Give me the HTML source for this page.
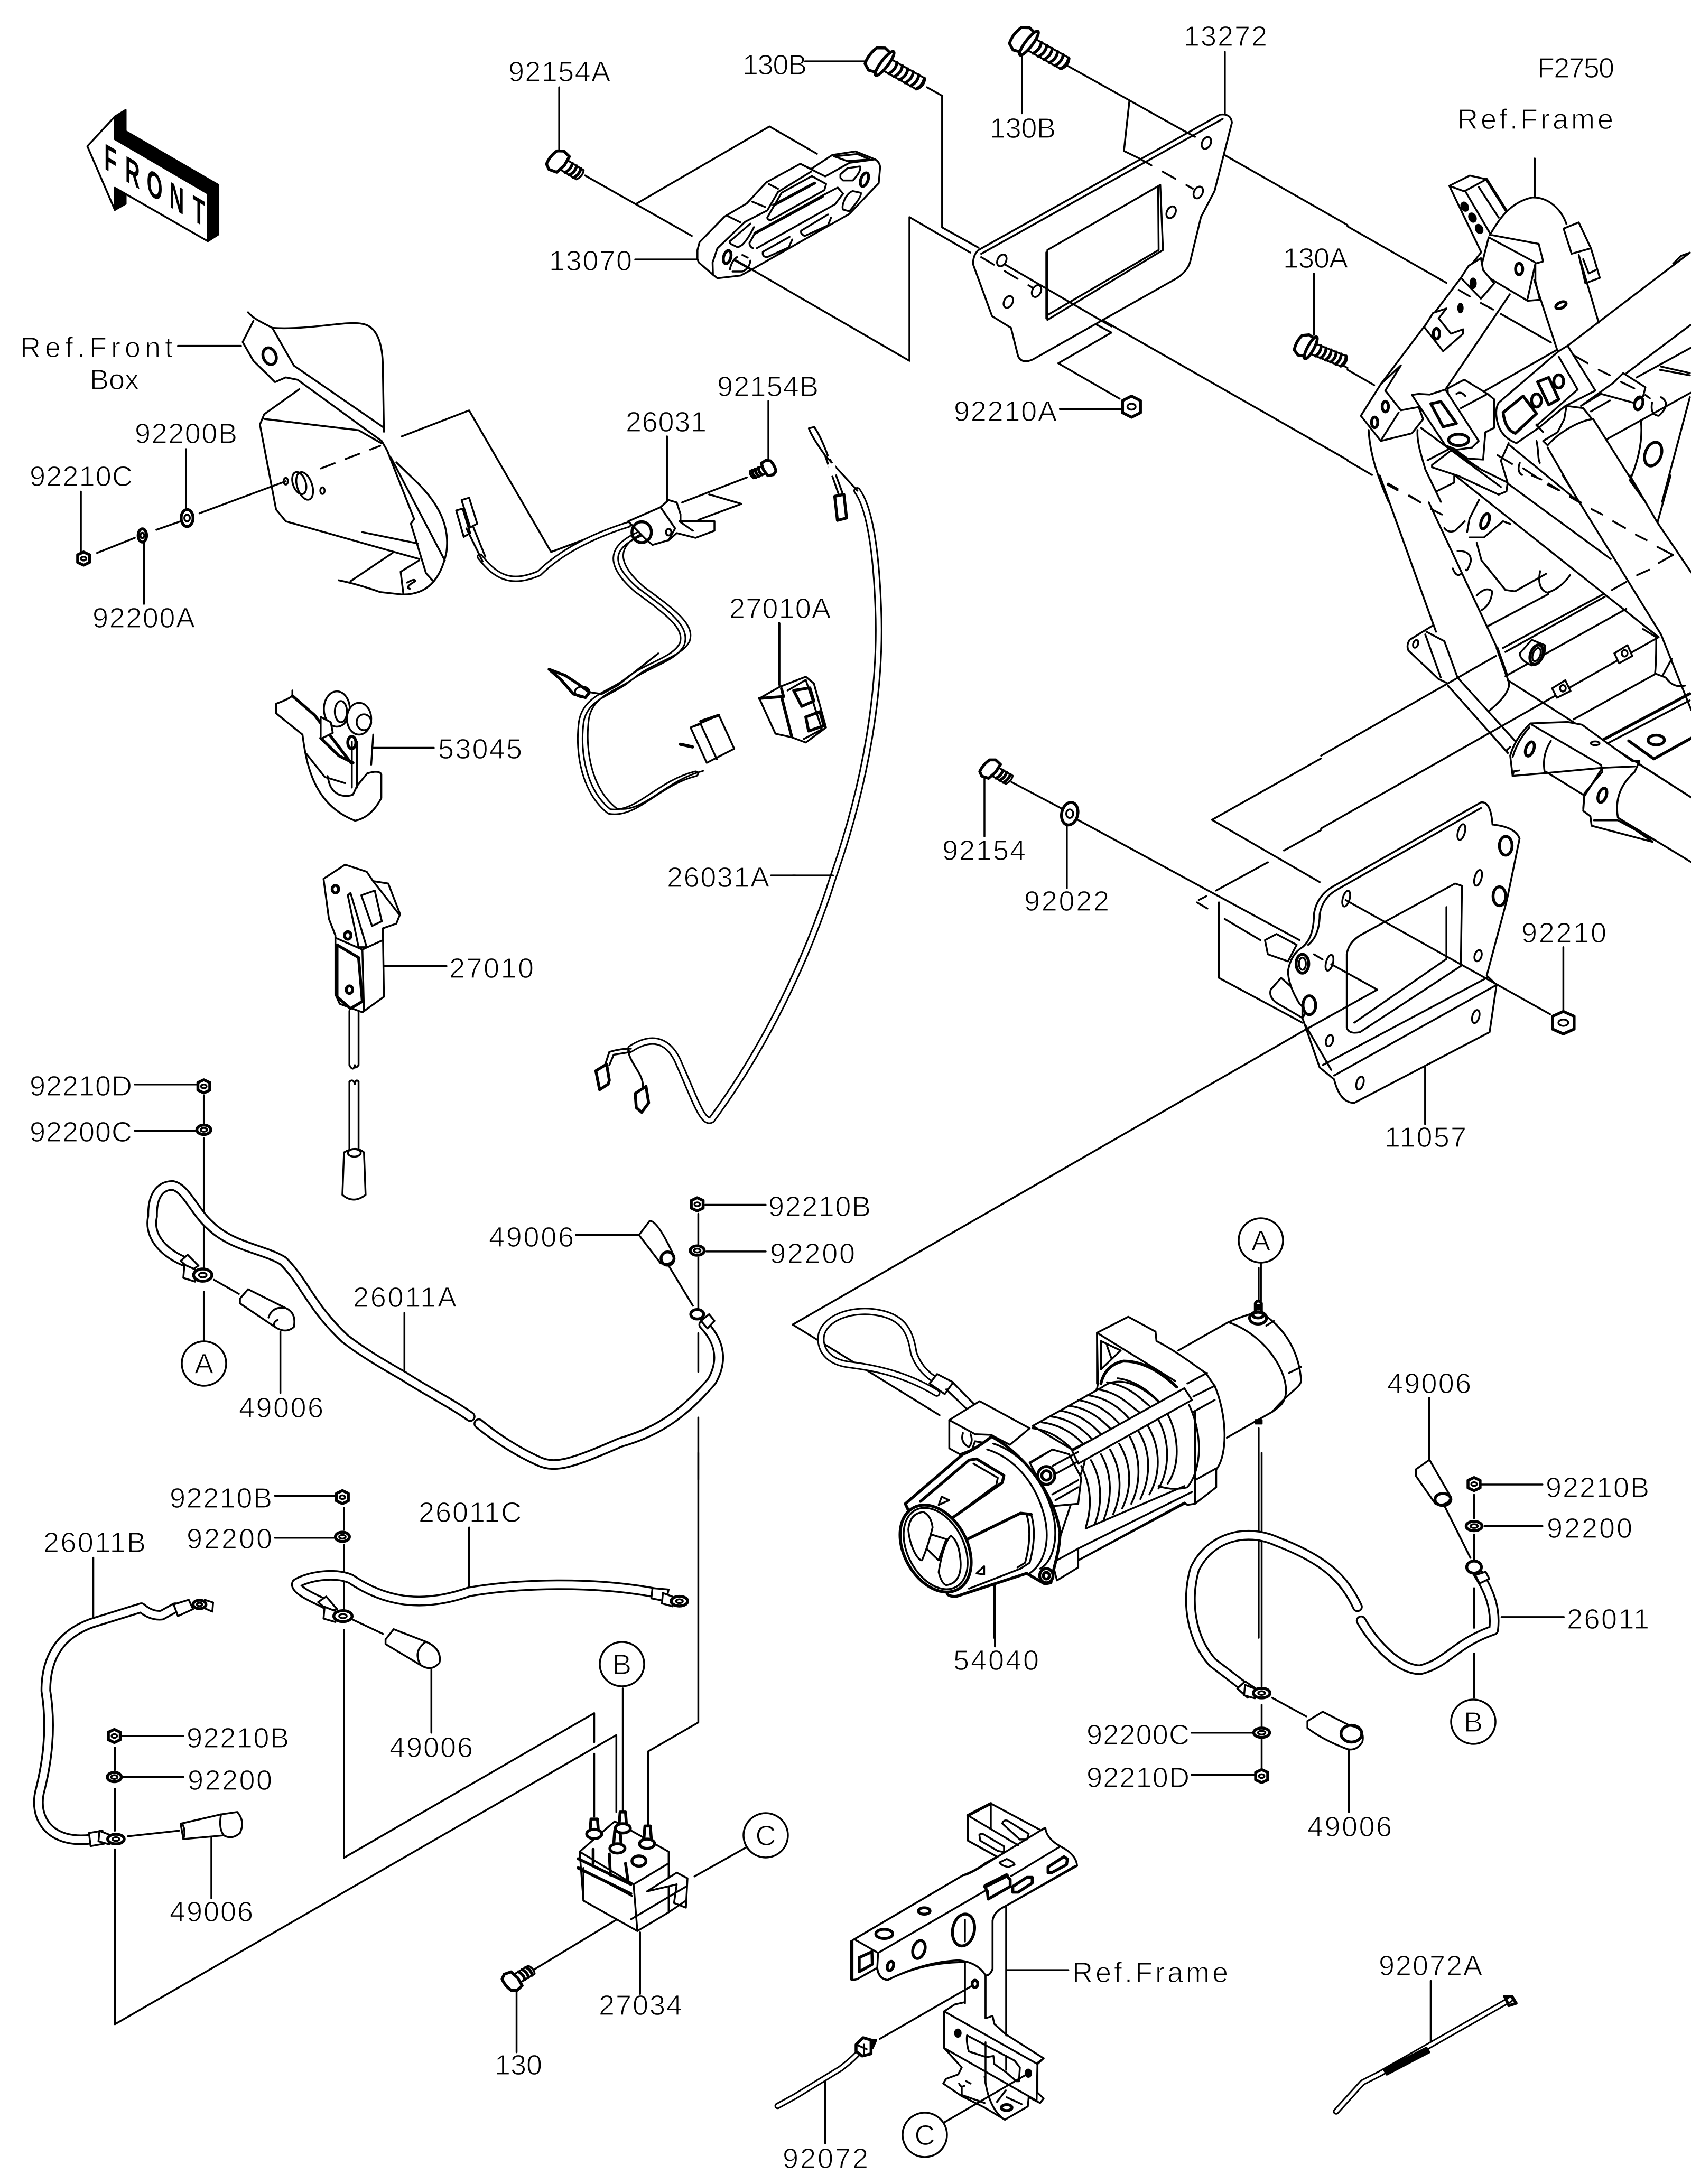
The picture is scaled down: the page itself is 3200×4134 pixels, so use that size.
<!DOCTYPE html>
<html><head><meta charset="utf-8"><style>
html,body{margin:0;padding:0;background:#fff}
svg{display:block;fill:none;stroke:#000;stroke-width:3.5;stroke-linejoin:round;stroke-linecap:round}
svg *{vector-effect:non-scaling-stroke}
text{font:54px "Liberation Sans",sans-serif;fill:#000;stroke:#fff;stroke-width:1.2}
.k{stroke-width:20}.w{stroke:#fff;stroke-width:13}
.k2{stroke-width:14}.w2{stroke:#fff;stroke-width:8}
.k3{stroke-width:12}.w3{stroke:#fff;stroke-width:6}
.f{fill:#fff}.b{fill:#000}.t{stroke-width:5.5}
</style></head><body>
<svg width="3200" height="4134" viewBox="0 0 3200 4134" xmlns="http://www.w3.org/2000/svg">
<rect width="3200" height="4134" fill="#fff" stroke="none"/>
<defs>
<g id="nut"><path class="f t" d="M-11,-8 L0,-14 L11,-8 L11,8 L0,14 L-11,8Z"/><ellipse rx="5" ry="4"/></g>
<g id="wsh"><ellipse class="f t" rx="13" ry="10"/><ellipse rx="6" ry="4"/></g>
<g id="bolt"><path class="f" d="M18,-14 L92,-14 Q100,0 92,14 L18,14Z"/><path class="t" d="M30,-14 Q37,0 30,14M42,-14 Q49,0 42,14M54,-14 Q61,0 54,14M66,-14 Q73,0 66,14M78,-14 Q85,0 78,14M90,-14 Q97,0 90,14"/><path class="f t" d="M-18,-20 L-5,-28 L10,-24 L10,24 L-5,28 L-18,20 Q-24,0 -18,-20Z"/><ellipse class="f t" cx="12" rx="7" ry="30"/></g>
<g id="boltS"><path class="f" d="M18,-14 L62,-14 Q70,0 62,14 L18,14Z"/><path class="t" d="M30,-14 Q37,0 30,14M42,-14 Q49,0 42,14M54,-14 Q61,0 54,14"/><path class="f t" d="M-18,-20 L-5,-28 L14,-24 L18,0 L14,24 L-5,28 L-18,20 Q-24,0 -18,-20Z"/></g>
<g id="ring"><path d="M-34,-22 L-14,-12 L-14,14 L-36,6Z" class="f"/><ellipse class="f t" rx="17" ry="13"/><ellipse rx="7" ry="5"/></g>
<path id="cA" d="M340,1105 C300,1085 275,1050 283,1010 C282,970 295,945 320,945 C345,950 360,1000 390,1030 C430,1075 490,1080 525,1105 C565,1150 575,1200 640,1270 C680,1305 720,1330 750,1350 C790,1380 835,1405 872,1435"/>
<path id="cA2" d="M888,1450 C920,1480 960,1510 1000,1530 C1030,1545 1060,1535 1150,1490 C1210,1470 1260,1440 1320,1360 C1345,1310 1330,1270 1305,1240"/>
<path id="cB" d="M325,332 L300,348 Q280,350 262,332 L170,365 C110,390 85,440 85,510 C95,580 90,650 75,720 C60,780 90,840 170,828"/>
<path id="cC" d="M1215,300 C1100,275 960,280 870,298 C790,330 720,325 650,270 C620,255 570,265 550,280 C545,295 590,315 605,325"/>
<path id="cD" d="M1012,330 C990,270 960,230 880,190 C830,160 770,180 745,250 C730,320 740,400 775,450 L825,500"/>
<path id="cD2" d="M1018,360 C1040,410 1080,465 1115,465 C1160,450 1170,410 1235,380 C1240,330 1225,290 1210,260"/>
<path id="cL" d="M1622,929 C1645,960 1658,1040 1662,1152 C1668,1300 1640,1480 1577,1659 C1530,1810 1450,1980 1347,2119 C1330,2130 1315,2080 1286,2016 C1270,1975 1240,1955 1194,1985"/>
<path id="cW1" d="M1165,1112 C1100,1135 1040,1170 1000,1215 C950,1240 920,1225 890,1180"/>
<path id="cW2" d="M1190,1130 C1125,1160 1130,1200 1180,1250 C1240,1300 1275,1330 1265,1365 C1250,1400 1195,1410 1160,1445 C1130,1470 1085,1480 1078,1530 C1070,1600 1085,1680 1130,1720 C1180,1730 1220,1660 1290,1640"/>
<path id="cR" d="M250,1385 C190,1340 130,1330 100,1325 C60,1320 45,1290 50,1260 C60,1220 110,1205 150,1215 C195,1225 205,1260 210,1300 Q220,1335 245,1355"/>
<path id="cT1" d="M195,1285 Q185,1300 165,1320 L90,1380 L62,1400"/>
<path id="cT2" d="M1262,1172 L1050,1330 L1020,1350 L977,1412"/>
</defs>

<!-- long cable (real coords) -->
<use href="#cL" class="k2"/><use href="#cL" class="w2"/>

<!-- Z1 -->
<g transform="scale(1.0204,.893)">
<path class="b" d="M213,247 L233,233 L233,278 L405,392 L405,497 L386,511 L386,410 L213,297Z M213,398 L233,410 L233,432 L213,445Z"/>
<path class="f" d="M162,310 L213,247 L213,295 L385,410 L385,511 L213,398 L213,445Z"/>
<path d="M1037,185 L1037,320M1085,372 L1283,500M1180,432 L1427,268 L1515,326M1178,550 L1293,550"/>
<use href="#boltS" transform="translate(1035,342) rotate(35) scale(.8,.85)"/>
<!-- front box -->
<path d="M460,662 C470,675 480,680 505,695 C570,700 640,680 670,686 C700,690 710,730 710,780 L712,915M470,680 L450,725 L470,765 L497,795 L510,810 L530,800 L552,805 L708,935 L718,955 L768,1100 L762,1110 L790,1215 L802,1230M505,695 L545,775 L710,905M555,825 L490,878 L482,900 L512,1080 L530,1105 L725,1168 L778,1185M490,888 L665,912 L708,940M735,980 L762,1010 C810,1060 835,1110 828,1170 C820,1215 800,1262 745,1260 L705,1255 C680,1245 650,1235 628,1230M650,1232 L728,1172M743,1212 L777,1188M743,1212 L748,1258M672,1128 L775,1152M725,970 L825,1188M745,925 L870,870 L1022,1170 L1150,1115M370,1088 L530,1020M290,1123 L335,1105M180,1172 L250,1140M345,952 L345,1085M150,1042 L150,1170M267,1148 L267,1280M330,733 L447,733M755,1235 Q770,1225 770,1232 Q750,1245 760,1248"/>
<path style="stroke-dasharray:28 22" d="M595,993 L705,945"/>
<ellipse cx="500" cy="755" rx="12" ry="18" class="t" transform="rotate(-15 500 755)"/>
<ellipse cx="565" cy="1030" rx="14" ry="30" transform="rotate(-15 565 1030)"/><ellipse cx="555" cy="1024" rx="12" ry="24" transform="rotate(-15 555 1024)"/>
<ellipse cx="598" cy="1040" rx="4" ry="7"/><ellipse cx="530" cy="1020" rx="4" ry="7"/>
<use href="#wsh" transform="translate(347,1098) scale(.85,1.8)"/>
<use href="#wsh" transform="translate(264,1135) scale(.6,1.4)"/>
<use href="#nut" transform="translate(155,1184)"/>
<!-- 26031 -->
<path d="M1237,925 L1237,1060M1425,850 L1425,985M1265,1065 L1385,1012M1315,1048 L1375,1068 L1295,1102"/>
<use href="#cW1" class="k3"/><use href="#cW1" class="w3"/>
<path class="f" d="M856,1060 L870,1055 L885,1110 L872,1118ZM846,1082 L858,1078 L872,1130 L860,1138Z"/>
<path d="M865,1120 L895,1190M878,1118 L900,1180"/>
<use href="#cW2" class="k3"/><use href="#cW2" class="w3"/>
<use href="#cW2" transform="translate(14,-6)" style="stroke-width:3"/>
<path class="f" d="M1165,1105 L1225,1075 L1240,1060 L1255,1065 L1262,1090 L1262,1105 L1325,1105 L1325,1125 L1290,1140 L1255,1130 L1240,1145 L1210,1155 L1195,1140Z"/>
<ellipse cx="1190" cy="1128" rx="18" ry="22" class="t"/><ellipse cx="1240" cy="1128" rx="5" ry="7"/>
<path d="M1225,1075 L1252,1120 L1240,1145M1260,1105 L1285,1125"/>
<use href="#boltS" transform="translate(1425,992) rotate(155) scale(.55,.6)"/>
<path d="M1445,1320 L1445,1450"/>
<!-- top of long cable -->
<path d="M1500,908 Q1505,925 1530,965 L1590,1040M1510,905 Q1522,925 1535,965M1500,908 L1510,905M1530,965 L1556,1050M1540,975 L1564,1050"/>
<path class="f t" d="M1548,1052 L1565,1048 L1570,1098 L1553,1103Z"/>
<path class="f" d="M1535,985 L1548,980 L1552,1005 L1540,1010Z" stroke-opacity="0"/>
</g>

<!-- Zc part 13070 -->
<g transform="translate(1280,260) scale(.3373,.3333)">
<path class="f" d="M118,690 L118,640 L130,595 L270,450 L395,375 L505,255 L695,150 L755,180 L875,100 L1005,80 L1115,125 Q1140,140 1143,170 L1135,260 L970,435 L415,755 L360,785 L230,800 L205,780 L125,710Z"/>
<path d="M205,780 L203,710 L230,630 L385,480 L510,415 L570,310 L755,195M695,150 L835,222 L970,145 L1115,125M290,448 L358,482M425,365 L497,395M518,265 L570,292M510,455 L590,315 L760,220 L840,265 L830,300 L530,470 Q510,470 510,455ZM430,630 Q410,620 410,600 L440,545 L820,330 L905,285 L935,320 L890,380 L450,630M700,530 L850,438M868,455 L850,500 L720,560 Q695,550 700,530M485,650 L635,565M650,580 L630,625 L510,680 Q480,680 485,650M370,668 L400,683M415,700 Q410,745 370,762 L315,762M300,750 Q310,700 340,680M990,305 L1035,315 Q1040,340 970,420 L935,410 Q925,390 950,340 Q970,310 990,305M920,210 L960,175 L1030,165 Q1040,190 990,245 L935,245 L920,230ZM885,108 L1015,95 L1085,125 L960,135ZM300,590 L415,490M435,510 Q400,580 370,610 L345,625 L305,605 Q295,595 300,590"/>
<path class="t" d="M545,385 L775,260M440,545 L820,335"/>
<ellipse class="t" cx="1055" cy="240" rx="20" ry="40" transform="rotate(20 1055 240)"/>
<ellipse class="t" cx="285" cy="680" rx="20" ry="38" transform="rotate(15 285 680)"/>
<path d="M330,700 L420,752"/>
</g>
<path d="M1393,493 L1721,683 L1721,411 L1836,478"/>

<!-- Z8 -->
<g transform="translate(450,1150) scale(.765,.334)">
<path class="t" d="M770,350 L800,410 L830,490 L860,510 L870,480 L840,430 L810,385Z"/>
<ellipse cx="852" cy="478" rx="18" ry="30"/>
<path d="M870,480 L900,490 L940,440 L1040,260"/>
<path class="f" d="M1120,680 L1190,610 L1228,800 L1160,880Z"/><path d="M1120,680 L1145,660 L1185,860"/>
<path class="t" d="M1145,645 L1190,610"/>
<path class="t" style="stroke-width:6" d="M1095,775 L1125,790"/>
<path d="M1340,90 L1340,445"/>
<path class="f" d="M1290,515 L1340,450 L1405,392 L1425,430 L1455,680 L1405,765 L1370,735 L1330,715Z"/>
<path class="t" d="M1290,515 L1345,505 L1370,730M1345,460 L1350,505"/>
<path class="t" d="M1375,470 L1415,455 L1425,530 L1395,560ZM1405,620 L1440,590 L1450,670 L1412,700Z"/>
<path d="M1360,470 L1405,410 L1445,690 L1400,745"/>
<!-- hook -->
<path d="M135,470 L135,500 Q125,520 95,545 L95,600 L160,720 C170,900 190,1120 290,1208 Q330,1190 355,1080 L355,945 Q350,920 320,940 L295,1010 L285,1060 Q270,1075 250,1060 C225,1030 225,980 222,955M170,830 L215,960 L265,995M335,720 L330,890M282,760 L282,1020M295,760 L295,1020M335,795 L485,795"/>
<path class="t" d="M135,500 L190,610 L280,880M205,740 L250,840 L285,880"/>
<ellipse class="f" cx="245" cy="575" rx="32" ry="100"/><ellipse cx="255" cy="590" rx="15" ry="60"/>
<ellipse class="f" cx="300" cy="630" rx="30" ry="90"/><ellipse cx="312" cy="650" rx="18" ry="45"/>
<path class="f" d="M205,620 L230,650 L235,710 L205,745Z"/>
<ellipse class="t" cx="282" cy="765" rx="10" ry="35"/>
</g>

<!-- Z4 -->
<g transform="translate(0,1400) scale(1.0204,.893)">
<path class="f" d="M600,295 L640,265 L680,280 L692,300 L720,305 L742,370 L735,390 L710,400 L712,545 L672,578 L630,560 L622,540 L622,415 L610,380Z"/>
<path d="M672,445 L675,575M622,420 L672,445 L710,425M650,325 L680,440 L665,440 L645,330ZM670,330 L695,320 L708,385 L690,395ZM692,300 L740,370"/>
<path class="t" d="M625,435 L665,462 L672,555 L650,570 L625,545Z"/>
<ellipse cx="622" cy="317" rx="6" ry="8" class="t"/><ellipse cx="645" cy="415" rx="6" ry="8" class="t"/><ellipse cx="648" cy="530" rx="6" ry="8" class="t"/>
<path d="M648,575 L648,690 Q655,705 658,690M665,575 L665,690 Q658,700 658,690M648,725 L648,870M665,725 L665,870M648,725 Q655,718 658,730M665,725 Q660,718 658,730"/>
<path class="f" d="M638,875 Q660,860 675,875 L678,965 Q655,985 635,965Z"/><ellipse cx="657" cy="876" rx="12" ry="8"/>
<path d="M712,480 L828,480M250,731 L365,731M250,829 L362,829M378,755 L378,815M378,845 L378,1120M378,1170 L378,1275M397,1145 L443,1175M520,1255 L520,1385M750,1215 L750,1340M1068,1050 L1185,1050M1240,1115 L1285,1200M1308,986 L1420,986M1310,1085 L1420,1085M1295,1005 L1295,1070M1295,1098 L1295,1205M1295,1258 L1295,1340M1295,1437 L1295,1568M1430,288 L1475,288"/>
<use href="#nut" transform="translate(378,735)"/><use href="#wsh" transform="translate(378,827)"/>
<use href="#nut" transform="translate(1293,985)"/><use href="#wsh" transform="translate(1293,1083)"/>
<use href="#cA" class="k"/><use href="#cA" class="w"/>
<use href="#cA2" class="k"/><use href="#cA2" class="w"/>
<path class="f" d="M335,1105 L348,1092 L368,1115 L355,1125Z"/>
<use href="#ring" transform="translate(376,1135)"/>
<path class="f" d="M445,1185 L460,1165 L530,1205 Q550,1215 545,1245 Q530,1260 510,1245 L445,1195Z"/><path d="M498,1225 Q505,1200 530,1205M510,1245 Q505,1235 515,1230"/>
<path class="f" d="M1185,1050 L1205,1020 Q1220,1020 1250,1095 Q1250,1115 1225,1110Z"/><ellipse class="t" cx="1238" cy="1100" rx="12" ry="14"/>
<ellipse class="f t" cx="1293" cy="1218" rx="12" ry="10"/><path class="f" d="M1300,1232 L1315,1218 L1325,1232 L1312,1248Z"/>
<path d="M1122,690 L1130,662 Q1150,655 1170,655M1165,660 C1170,690 1195,710 1192,738M1130,690 L1138,668 L1170,662"/>
<path class="f t" d="M1105,702 L1125,688 L1130,722 L1128,730 L1112,742Z"/><path class="f t" d="M1178,750 L1198,735 L1203,770 L1190,790 L1180,780Z"/>
</g>

<!-- Z2 -->
<g transform="translate(1600,0) scale(1.027,.893)">
<path d="M-78,130 L48,130M150,185 L178,203 L178,482 L245,525M325,115 L325,240M410,140 L620,275M523,215 L513,320 L540,335M670,310 L925,477M293,560 L925,975M360,625 L490,705 L392,770 L505,845M699,110 L699,240M395,867 L510,867M863,580 L863,710M910,770 L925,780"/>
<use href="#bolt" transform="translate(62,128) rotate(33)"/>
<use href="#bolt" transform="translate(328,85) rotate(33)"/>
<use href="#bolt" transform="translate(848,733) rotate(25) scale(.85,.85)"/>
<path class="f" d="M245,530 L690,243 Q710,240 712,260 L680,405 L655,460 L635,555 Q630,575 610,590 L345,762 Q325,772 318,755 L305,695 L270,670 L235,560 Q235,540 245,530Z"/>
<path d="M250,538 L695,252M293,560 L490,692"/>
<path d="M372,530 L580,392 L585,530 L372,678Z"/><path d="M370,535 L370,675M576,396 L577,530 L372,668"/>
<path style="stroke-dasharray:28 24" d="M250,545 L345,610M540,335 L640,400M620,275 L660,300"/>
<ellipse cx="288" cy="552" rx="8" ry="13" transform="rotate(20 288 552)"/><ellipse cx="352" cy="617" rx="8" ry="13" transform="rotate(20 352 617)"/><ellipse cx="300" cy="640" rx="8" ry="13" transform="rotate(20 300 640)"/><ellipse cx="665" cy="303" rx="8" ry="13" transform="rotate(20 665 303)"/><ellipse cx="650" cy="408" rx="8" ry="13" transform="rotate(20 650 408)"/><ellipse cx="600" cy="450" rx="8" ry="13" transform="rotate(20 600 450)"/>
<use href="#nut" transform="translate(527,862) scale(1.5,1.6)"/>
</g>

<!-- Z10 frame upper -->
<g transform="translate(2550,300) scale(.4207,.4145)">
<path d="M842,0 L842,178M458,125 L550,78 L625,95 L715,240M458,125 L600,425M458,125 L525,150 L625,95M530,150 L640,340M590,130 L680,270M640,350 C680,280 730,200 830,178 C910,175 965,240 985,300"/>
<path class="t" d="M625,95 L715,240"/>
<ellipse class="b" cx="527" cy="220" rx="14" ry="20" transform="rotate(-25 527 220)"/><ellipse class="b" cx="562" cy="270" rx="14" ry="20" transform="rotate(-25 562 270)"/><ellipse class="b" cx="592" cy="322" rx="14" ry="20" transform="rotate(-25 592 322)"/>
<path d="M635,360 L595,520 L810,650 L865,645 L845,560 L845,480 L880,470 L860,390 L650,350M635,360 L845,475M810,640 L845,480M840,555 L945,880M1040,440 L1130,750M972,320 L1040,292 L1095,410 L1008,435ZM1040,440 L1070,570 L1135,545 L1095,410M1060,460 L1085,525 L1115,510M510,545 L600,430M510,545 L150,1030M730,620 L440,1055"/>
<ellipse class="t" cx="772" cy="505" rx="16" ry="26"/>
<ellipse class="t" cx="960" cy="670" rx="25" ry="13" transform="rotate(-25 960 670)"/>
<ellipse class="b" cx="508" cy="683" rx="10" ry="20"/>
<path class="f" d="M510,545 L545,490 L600,455 L610,510 L660,570 L600,640Z"/><ellipse class="b" cx="565" cy="570" rx="12" ry="22"/>
<path class="f" d="M345,770 L385,705 L445,685 L410,730 L465,800 L520,780 L520,800 L430,880Z"/><ellipse class="t" cx="400" cy="800" rx="14" ry="24"/>
<path class="f" d="M60,1175 L150,1030 L240,945 L170,1060 L240,1150 L320,1135 L340,1190 L290,1255 L150,1290Z"/>
<ellipse class="t" cx="170" cy="1133" rx="14" ry="24"/><ellipse class="t" cx="122" cy="1205" rx="14" ry="24"/><path d="M155,1280 L230,1160"/>
<path class="f" d="M450,1050 L525,1010 L630,1075 L660,1100 L660,1230 L620,1250 L610,1375 L540,1370 L470,1320Z"/>
<path class="f" d="M290,1080 L320,1075 L370,1078 L440,1055 L590,1290 L560,1320 L490,1330 L440,1310Z"/>
<path class="t" d="M375,1120 L420,1110 L490,1210 L430,1225Z"/><ellipse class="t" cx="500" cy="1285" rx="45" ry="26"/>
<path d="M510,1140 L630,1075M620,1060 L940,875M490,1075 Q510,1060 530,1085"/>
<path class="f" d="M680,1115 L950,880 L990,855 L1115,1060 L980,1130 L860,1230 L760,1300 Q680,1270 670,1180 Q665,1140 680,1115Z"/>
<path d="M950,905 L1035,1055 L850,1220"/>
<path class="t" d="M700,1160 L790,1085 L850,1165 L755,1255 Q710,1240 700,1160Z"/><ellipse class="t" cx="850" cy="1105" rx="22" ry="30"/><ellipse class="t" cx="950" cy="1018" rx="22" ry="30"/><path class="t" d="M855,1020 L905,1000 L950,1100 L905,1125Z"/>
<path d="M990,855 L1540,430M1465,480 L1500,445 L1540,430M1105,1190 L1340,1568M1170,1280 L1543,1070M1195,1025 L1240,980 L1340,1045 L1330,1085 L1285,1115 L1140,1075 L1050,1130 L1195,1025M1255,980 L1543,760M1300,1000 L1543,865M1095,1155 L1180,1105M900,1320 L1040,1568M900,1310 C950,1250 1040,1200 1100,1190 L1060,1140 L985,1130 L975,1190 L945,1250 L880,1290M850,1215 L880,1250M880,1290 L900,1310M95,1240 C100,1340 130,1440 185,1568M315,1240 C310,1300 340,1380 350,1420 L420,1568M380,1400 L470,1330 L600,1420 L720,1480 L715,1520 L680,1535 L500,1450 L380,1410ZM330,1230 L690,1500M725,1300 L690,1380 L720,1480M730,1310 L1040,1568M360,1378 L460,1325M0,310 L445,568M0,965 L120,1035M0,1380 L110,1445M690,710 L915,840M1320,1200 C1330,1300 1300,1400 1270,1470 L1340,1568M1540,1090 L1415,1568M850,1290 C860,1330 855,1370 865,1390M480,1450 L480,1480 L400,1520M1410,1090 Q1460,1120 1400,1175 Q1360,1170 1370,1115M1410,950 L1540,980M1405,965 L1540,990"/>
<path d="M500,600 L550,630M600,660 L655,690M1020,900 L1080,935M1130,965 L1180,990M1230,1020 L1290,1050M1340,1080 L1360,1095M675,1355 L740,1395M790,1415 L850,1455M900,1490 L950,1515M1000,1545 L1040,1568M180,1490 L225,1515M275,1540 L325,1568"/>
<ellipse class="t" cx="1375" cy="1350" rx="36" ry="56" transform="rotate(20 1375 1350)"/>
<ellipse class="t" cx="1310" cy="1118" rx="18" ry="30" transform="rotate(15 1310 1118)"/>
<path d="M775,1390 Q760,1430 785,1445"/>
</g>

<!-- Z9 frame lower -->
<g transform="translate(2500,900) scale(.453,.51)">
<path d="M245,0 L480,580M450,100 L740,650 L785,770 Q790,810 700,875M470,555 L370,610 Q355,630 365,650 L490,755 L525,770M435,590 L500,750M440,580 L515,615 L570,750 L810,985M530,780 L780,1030M0,1040 L730,670M760,640 L1180,440M770,655 L1185,450M0,1310 L1410,600M1055,905 L1390,740M695,560 L950,440M770,745 L1275,495M780,760 L1546,1195M560,0 L1410,600M780,30 L1210,310M1010,0 L1420,590 L1546,870M1290,0 L1405,175 L1470,260 L1546,360M1405,175 L1460,0M1345,570 L1400,600 Q1400,700 1395,735 L1440,750 Q1470,790 1520,780M1425,745 L1465,680M650,250 L670,315 L770,425 L810,430 L940,365M620,230 L680,230 L760,170L790,180M660,90 L620,160 L610,210"/>
<path d="M280,30 L320,50M370,75 L415,100M460,125 L505,145M880,0 L920,15M950,30 L995,55M1040,75 L1085,100M1130,125 L1175,145M1220,170 L1270,195M1315,220 L1360,240M1405,265 L1470,295M1410,325 L1470,295M1320,370 L1370,350M1215,425 L1275,395"/>
<ellipse class="t" cx="685" cy="170" rx="15" ry="30" transform="rotate(25 685 170)"/>
<path d="M915,355 Q900,420 945,435 Q1000,420 1040,370M570,280 Q630,280 625,320 Q610,360 605,350M650,445 Q690,410 715,430 Q710,480 670,500M550,345 Q565,380 585,365M515,195 Q530,215 560,205 L600,170"/>
<path class="f" d="M830,660 L880,610 L935,630 Q940,690 880,705 Q830,685 830,660Z"/><ellipse class="f t" cx="900" cy="665" rx="25" ry="38" transform="rotate(25 900 665)"/><ellipse cx="900" cy="665" rx="15" ry="26" transform="rotate(25 900 665)"/>
<path class="f" d="M1225,660 L1280,630 L1300,670 L1245,697Z"/><path class="f" d="M965,790 L1020,760 L1042,800 L985,825Z"/>
<circle cx="1268" cy="660" r="12"/><circle cx="1010" cy="790" r="12"/>
<ellipse class="f" cx="395" cy="625" rx="10" ry="15" transform="rotate(25 395 625)"/>
<path class="t" d="M735,640 L775,740"/>
<path class="f" d="M800,1115 L790,1040 Q810,975 875,920 L1030,915 L1090,925 L1175,980 L1300,1060 L1330,1060 L1310,1100 Q1220,1170 1240,1270 L1385,1360 L1130,1300 L1125,1265 L1095,1245 L1100,1190 L1175,1085 L935,1105Z"/>
<path d="M1170,1085 L1310,1080M880,925 L1170,1075 L1175,1100 L1100,1180 L1095,1235M870,935 Q820,985 800,1045M960,985 Q920,1040 935,1105M940,1100 L1095,1185M1140,1280 L1240,1280 L1385,1350M1240,1270 L1546,1435M1310,1060 L1546,1195"/>
<ellipse class="t" cx="872" cy="1015" rx="16" ry="28" transform="rotate(25 872 1015)"/><ellipse class="t" cx="1175" cy="1187" rx="16" ry="28" transform="rotate(25 1175 1187)"/>
<ellipse cx="1145" cy="994" rx="18" ry="7"/>
<path class="f t" d="M1285,985 L1390,1052 L1546,975"/><ellipse class="t" cx="1400" cy="982" rx="34" ry="18"/>
<path class="t" d="M1180,980 L1540,810"/><path d="M1195,995 L1540,835"/>
<path d="M780,1030 L775,1020 L790,1008M800,1115 L805,1098 L828,1095"/>
</g>

<!-- Z3 -->
<g transform="translate(1500,1400) scale(1.09,.893)">
<path d="M333,75 L333,205M476,175 L476,315M380,90 L470,148M495,170 L880,425M0,288 L70,288M728,170 L915,302M728,170 L917,40M853,235 L917,192M735,320 L825,260M705,340 L718,332 M702,345 L720,358M740,345 L740,505 L885,600M750,380 L812,425M1098,685 L1098,815M1338,440 L1338,575M813,1110 L813,1190M0,1240 L255,1432M1105,1395 L1105,1530"/>
<use href="#boltS" transform="translate(343,62) rotate(35) scale(.65,.75)"/>
<ellipse class="f t" cx="481" cy="157" rx="14" ry="24" transform="rotate(8 481 157)"/><ellipse cx="481" cy="157" rx="6" ry="9"/>
<path class="f" d="M820,425 L840,412 L875,435 L860,470 L825,455Z"/><path class="f" d="M830,530 L848,505 L885,545 L885,590 L850,565 Q825,550 830,530Z"/>
<path class="f" d="M885,440 Q905,420 905,370 Q910,330 940,310 L1195,133 Q1212,130 1215,180 Q1255,185 1262,210 L1240,340 L1205,500 L1222,520 L1210,620 L975,770 Q950,770 940,720 L915,695 L885,590 Q895,575 880,560 Q860,520 860,490 Q865,455 885,440Z"/>
<path d="M895,435 Q915,415 915,370 Q920,335 945,318 L1195,145M920,690 L1205,505M940,712 L1222,520M890,605 L935,700"/>
<path d="M985,415 L1150,305 L1162,310 L1160,480 L985,620 Q965,625 962,610 L962,455 Q965,430 985,415Z"/><path d="M1135,355 L1135,465 L975,600"/>
<ellipse class="t" cx="885" cy="475" rx="11" ry="20"/><ellipse cx="885" cy="475" rx="6" ry="13"/><ellipse class="t" cx="897" cy="563" rx="11" ry="20"/><ellipse class="t" cx="1238" cy="225" rx="11" ry="20"/><ellipse class="t" cx="1227" cy="332" rx="11" ry="20"/>
<ellipse cx="1161" cy="196" rx="6" ry="17" transform="rotate(12 1161 196)"/><ellipse cx="1190" cy="293" rx="6" ry="17" transform="rotate(12 1190 293)"/><ellipse cx="1190" cy="458" rx="6" ry="12" transform="rotate(12 1190 458)"/><ellipse cx="961" cy="337" rx="6" ry="17" transform="rotate(12 961 337)"/><ellipse cx="932" cy="473" rx="6" ry="17" transform="rotate(12 932 473)"/><ellipse cx="932" cy="638" rx="6" ry="12" transform="rotate(12 932 638)"/><ellipse cx="1186" cy="587" rx="6" ry="14" transform="rotate(12 1186 587)"/><ellipse cx="985" cy="728" rx="6" ry="14" transform="rotate(12 985 728)"/>
<path d="M960,340 L1315,582"/>
<path d="M905,455 L920,466M935,476 L1015,530 L890,615 L0,1240"/>
<use href="#nut" transform="translate(1338,600) scale(1.7,1.7)"/>
<use href="#cR" class="k2"/><use href="#cR" class="w2"/>
</g>

<!-- Z7 winch -->
<g transform="translate(1650,2400) scale(.574,.4464)">
<path d="M1275,0 L1275,135M1275,680 L1275,1568M402,1345 L402,1568"/>
<path d="M1010,350 L1175,230 Q1210,210 1250,195 L1300,205 C1370,270 1410,370 1415,480 C1410,510 1380,520 1320,610 L1170,720M1175,230 C1290,280 1370,430 1365,530 C1360,580 1340,590 1320,610M1300,245 L1325,225M1375,445 L1415,420"/>
<path class="t" d="M1264,185 L1264,150 Q1272,130 1284,150 L1284,185M1264,160 L1284,160M1264,172 L1284,172"/>
<ellipse class="f t" cx="1273" cy="212" rx="28" ry="26"/><ellipse class="t" cx="1273" cy="200" rx="18" ry="12"/><path class="b" d="M1265,645 L1285,645 L1285,660 L1265,660Z"/>
<path class="f" d="M742,275 L845,207 L935,270 L938,310 C1000,350 1060,410 1100,445 L1130,500 C1170,620 1175,790 1135,855 L1135,930 L1065,1000 L1040,1005 L1030,995 L680,1240 L590,1260 L700,830 L745,490Z"/>
<path d="M742,275 L742,490M742,275 L1000,480M755,310 L820,350 L755,430ZM775,330 L790,385M755,490 Q770,410 830,395 C900,395 960,450 1005,505M1040,490 L1105,445M1060,545 L1130,500M1060,610 L1130,560M1045,580 C1090,700 1090,850 1040,930 C1010,940 980,940 945,925M1065,900 L1135,850M1065,610 L1065,1000"/>
<path class="t" d="M755,490 Q770,410 830,395 C900,395 960,450 1005,505"/>
<path class="f" d="M530,670 L760,505 C800,465 870,470 955,580 L660,770Z"/>
<path d="M530,680 C590,690 630,730 660,770M560,655 C625,665 670,710 695,745M590,630 C655,640 700,690 725,725M620,605 C690,620 730,670 755,705M650,585 C720,595 760,650 785,680M680,560 C750,575 790,625 815,660M710,540 C780,550 825,605 845,635M740,515 C815,525 855,590 880,610M775,485 C850,500 890,560 915,585M810,468 C880,480 925,540 945,565"/>
<path class="f" d="M660,775 L1030,510 L1055,560 L680,830Z"/>
<path d="M690,840 C725,930 725,1020 705,1100M722,815 C760,900 760,1000 735,1085M755,790 C795,880 790,980 765,1065M785,770 C825,860 825,960 795,1045M815,745 C860,840 855,940 825,1020M850,715 C890,810 885,920 855,1000M880,695 C925,790 915,900 885,980M910,670 C955,770 950,880 915,960M945,645 C985,740 980,860 945,935M975,620 C1015,720 1015,840 975,915M705,1105 L1030,925M680,1190 L1055,950M680,1240 L1030,1000"/>
<path class="f" d="M255,645 L355,565 L520,680 L455,750 L395,710 L385,745 L340,735 L330,770 L290,790 L255,765Z"/>
<path d="M255,645 L340,705 L395,708M300,700 Q290,740 320,760 Q335,735 325,705"/>
<path class="f" d="M520,825 L595,770 L650,790 L690,890 L680,1000 L595,1010Z"/>
<path d="M525,825 L595,770M595,840 L680,780M610,870 L680,820M595,960 L680,900M605,985 L680,930"/>
<path class="f" d="M595,1250 L680,1190 L680,1270 L610,1325Z"/>
<path class="f t" d="M110,1000 L300,790 Q340,770 395,715 C500,790 600,950 620,1120 C620,1200 600,1260 590,1335 L570,1340 L510,1295 L280,1392 Q260,1395 250,1385Z"/>
<path d="M380,770 C460,800 540,900 570,1060 C590,1180 560,1260 520,1295M400,745 C490,780 570,900 600,1060 C615,1170 590,1250 555,1275"/>
<path class="t" d="M160,990 L320,815 L345,810 L435,880 L430,910 L265,1060M315,1150 L490,1040 L525,1045"/>
<path d="M335,830 L415,890 L410,920 L280,1045M525,1045 Q545,1130 520,1250 L490,1275 L320,1360M510,1045 Q530,1130 505,1250 L480,1270M230,970 L255,985 L220,1005ZM370,1265 L345,1295 L370,1300Z"/>
<ellipse class="f t" cx="210" cy="1190" rx="108" ry="190" transform="rotate(-17 210 1190)"/>
<ellipse cx="210" cy="1190" rx="96" ry="178" transform="rotate(-17 210 1190)"/>
<path d="M170,1035 Q125,1040 120,1110 C125,1180 150,1240 165,1240 Q185,1180 200,1100 Q195,1050 170,1035ZM260,1135 Q235,1170 220,1290 Q230,1340 245,1345 C280,1340 300,1300 290,1220 Q285,1160 260,1135ZM195,1130 L245,1150 L220,1240 L180,1190Z"/>
<ellipse class="f t" cx="575" cy="880" rx="28" ry="38"/><ellipse class="t" cx="575" cy="880" rx="15" ry="20"/>
<ellipse class="f t" cx="575" cy="1305" rx="22" ry="30"/><ellipse class="t" cx="575" cy="1305" rx="10" ry="14"/>
<path class="f" d="M190,490 L215,450 L268,485 L240,535Z"/><path d="M245,515 L310,595M270,490 L335,575"/>
</g>

<!-- Z5 -->
<g transform="translate(0,2750) scale(1.0204,.883)">
<path d="M510,92 L622,92M510,182 L620,182M638,118 L638,165M638,197 L638,335M638,380 L638,868 L1102,558 L1102,620M1102,645 L1102,780M213,850 L213,1225 L1143,605 L1143,770M1155,505 L1155,770M1295,0 L1295,578 L1202,640 L1202,800M1288,908 L1385,845M990,1108 L1180,975M1187,1028 L1187,1160M958,1150 L958,1285M228,607 L340,607M228,695 L340,695M213,632 L213,680M213,720 L213,810M237,822 L332,810M392,825 L392,955M655,358 L710,388M800,465 L800,600M870,160 L870,290M173,225 L173,355"/>
<use href="#nut" transform="translate(635,95)"/><use href="#wsh" transform="translate(635,180)"/>
<use href="#nut" transform="translate(212,607)"/><use href="#wsh" transform="translate(212,695)"/>
<use href="#cB" class="k"/><use href="#cB" class="w"/>
<use href="#cC" class="k"/><use href="#cC" class="w"/>
<path class="f" d="M322,325 L350,315 L358,335 L330,350Z"/><use href="#ring" transform="translate(370,325) rotate(180) scale(.7,.7)"/>
<path class="f" d="M165,815 L190,810 L193,838 L168,843Z"/><use href="#ring" transform="translate(215,828) scale(.9,.8)"/>
<path class="f" d="M1210,290 L1240,293 L1235,318 L1208,312Z"/><use href="#ring" transform="translate(1260,318) scale(.9,.8)"/>
<path class="f" d="M590,320 L605,308 L625,335 L610,340Z"/><use href="#ring" transform="translate(636,350) scale(1,.9)"/>
<path class="f" d="M335,795 L410,775 L440,770 Q455,790 445,815 Q430,830 415,820 L340,828Z"/><path d="M410,775 Q405,805 415,820M338,795 Q345,810 340,828"/>
<path class="f" d="M715,400 L730,378 L790,405 Q820,420 815,450 Q800,470 780,455 L715,410Z"/><path d="M790,405 Q765,425 780,455"/>
<!-- solenoid -->
<path class="f" d="M1075,855 L1140,790 L1240,855 L1240,985 L1182,1025 L1082,960Z"/>
<path d="M1075,855 L1175,925 L1240,880M1175,925 L1182,1025M1072,888 L1172,950M1082,960 L1082,890"/>
<path class="t" d="M1072,870 L1170,925M1072,890 L1170,945"/>
<path class="f" d="M1200,940 L1255,900 L1275,912 L1272,975 L1250,965 L1255,925Z"/>
<path d="M1170,1000 L1272,930M1240,985 L1272,960"/>
<path class="t" d="M1100,850 L1100,880M1130,860 L1132,905M1160,880 L1165,920"/>
<g class="t"><path class="f" d="M1096,785 L1108,785 L1110,815 L1094,815Z"/><path class="f" d="M1150,770 L1160,770 L1162,800 L1148,800Z"/><path class="f" d="M1196,800 L1206,800 L1208,830 L1194,830Z"/><path class="f" d="M1140,810 L1150,810 L1152,840 L1138,840Z"/></g>
<ellipse class="f t" cx="1102" cy="817" rx="14" ry="10"/><ellipse class="f t" cx="1155" cy="805" rx="14" ry="10"/><ellipse class="f t" cx="1200" cy="838" rx="14" ry="10"/><ellipse class="f t" cx="1145" cy="848" rx="14" ry="10"/><ellipse class="t" cx="1185" cy="875" rx="13" ry="11"/>
<use href="#boltS" transform="translate(950,1133) rotate(-35) scale(.7,.75)"/>
</g>

<!-- Z6 -->
<g transform="translate(1400,2750) scale(1.155,.883)">
<path d="M855,0 L855,500M855,540 L855,590M855,612 L855,680M740,600 L843,600M740,690 L843,690M872,525 L928,565M998,635 L998,770M1155,115 L1197,225M1215,68 L1315,68M1220,157 L1315,157M1203,90 L1203,140M1203,175 L1203,230M1203,290 L1203,375M1203,430 L1203,525M1248,352 L1350,352M418,285 L418,415"/>
<use href="#nut" transform="translate(855,693) scale(.9,1)"/><use href="#wsh" transform="translate(855,600)"/>
<use href="#nut" transform="translate(1203,67) scale(.9,1)"/><use href="#wsh" transform="translate(1203,157)"/>
<use href="#cD" class="k"/><use href="#cD" class="w"/>
<use href="#cD2" class="k"/><use href="#cD2" class="w"/>
<path class="f" d="M815,505 L828,490 L845,505 L832,525Z"/><use href="#ring" transform="translate(855,515) scale(.8,.8)"/>
<path class="f" d="M1205,262 L1222,255 L1228,270 L1212,280Z"/><ellipse class="f t" cx="1203" cy="245" rx="12" ry="13"/>
<path class="f" d="M930,575 L955,555 L1000,585 Q1025,590 1020,620 Q1010,640 995,635 Q955,615 930,590Z"/><ellipse class="t" cx="1002" cy="602" rx="17" ry="18"/>
<path class="f" d="M1108,35 L1130,15 L1165,95 Q1160,115 1140,110 L1108,50Z"/><ellipse class="t" cx="1152" cy="100" rx="13" ry="13"/>
<path d="M140,1345 L140,1480M1132,1132 L1132,1262"/>
<use href="#cT1" class="k3"/><use href="#cT1" class="w3"/>
<use href="#cT2" class="k3"/><use href="#cT2" class="w3"/>
<path class="b" d="M1055,1322 L1125,1275 L1130,1285 L1060,1333Z"/><path class="t" d="M1253,1165 L1265,1165 L1272,1180 L1260,1185Z"/>
</g>

<!-- Zb bracket bottom -->
<g transform="translate(1580,3380) scale(.3333,.4337)">
<path class="f" d="M755,130 L885,78 L1170,195 L1195,185 Q1200,230 1280,265 Q1370,300 1375,350 L970,525 Q900,550 895,590 L895,800 Q880,830 855,828 L855,1015 L895,1005 L905,1040 L970,1085 L1185,1190 L1150,1210 L1150,1340 L1185,1365 L1165,1385 L1100,1360 L1095,1400 L965,1458 L850,1405 L720,1355 L615,1300 L630,1280 L700,1260 L720,1230 L620,1145 L620,985 L680,955 L738,945 L738,770 Q500,770 300,848 Q250,845 240,795 L125,845 Q100,850 90,845 L90,680 L110,670 L730,390 Q800,370 850,340 L920,310 L755,240Z"/>
<path d="M755,130 L755,240 L920,310M755,130 L1040,260M885,85 L885,190M820,215 Q830,205 850,215 L960,265 L960,290 L925,285 L825,240ZM950,165 Q960,145 985,155 L1100,210 L1090,235 L1050,235Z"/>
<path class="t" d="M755,130 L885,78"/>
<path d="M110,670 L730,390 Q745,395 850,345 L1190,185M245,730 L850,460M1000,395 L1280,265M1365,350 L970,525 Q900,550 895,590 L895,800 Q880,830 855,828 Q810,770 700,762 Q500,770 300,848 Q250,845 240,800 L245,730M90,680 L90,845 Q100,850 125,845 L240,795M110,670 L245,730M100,680 L100,840M738,585 L738,680M738,770 L738,950M855,830 L855,1015M972,530 L972,1090M855,1120 L855,1300M972,1180 L972,1240"/>
<path class="t" d="M138,750 L210,725 L212,780 L138,812Z"/>
<ellipse class="t" cx="280" cy="647" rx="48" ry="20"/><ellipse class="t" cx="507" cy="547" rx="33" ry="14"/>
<ellipse class="t" cx="730" cy="630" rx="60" ry="72" transform="rotate(28 730 630)"/>
<ellipse class="t" cx="477" cy="715" rx="32" ry="42" transform="rotate(35 477 715)"/>
<ellipse class="t" cx="315" cy="787" rx="16" ry="22" transform="rotate(35 315 787)"/>
<path class="t" d="M1010,440 L1090,400 L1120,400 L1120,425 L1040,465 L1010,465ZM1210,355 L1300,310 L1320,320 L1315,345 L1230,380 L1210,380Z"/>
<path class="t" d="M850,440 L970,390 L995,410 L995,440 L870,495 L865,460Z"/><path class="t" style="stroke-width:8" d="M855,438 L975,392"/>
<path d="M935,335 L975,320 Q1020,335 1020,345 L985,355 Q945,350 935,335"/>
<path d="M620,985 L1150,1215 L1145,1375 L620,1145M1150,1215 L1185,1190M750,1090 L1020,1200 L1050,1230 L1045,1290 L1030,1290 L970,1250 L905,1215 L900,1180 L860,1185 L760,1160 Q745,1120 750,1090M850,1270 Q870,1400 950,1450M970,1330 L920,1380M975,1360 L1060,1390M1100,1255 L620,1470M255,1105 L775,875M975,805 L1325,805M720,1320 L720,1350 L850,1385M705,1300 Q715,1320 735,1310M745,1290 L770,1300"/>
<ellipse class="t" cx="975" cy="1405" rx="30" ry="13"/>
<ellipse class="b" cx="698" cy="1080" rx="16" ry="16"/><ellipse class="b" cx="1098" cy="1255" rx="16" ry="16"/>
<ellipse class="f t" cx="795" cy="865" rx="16" ry="16"/>
<path class="f t" d="M120,1130 L160,1100 L205,1110 L205,1170 L155,1180 L120,1160Z"/><path d="M165,1130 L165,1175M120,1130 L180,1150"/>
<path class="b" d="M205,1110 L235,1110 L215,1145Z"/>
</g>

<!-- labels -->
<g>
<circle class="f" cx="386" cy="2581" r="42"/><circle class="f" cx="2386" cy="2348" r="42"/>
<circle class="f" cx="1177" cy="3150" r="42"/><circle class="f" cx="2788" cy="3259" r="42"/>
<circle class="f" cx="1449" cy="3474" r="42"/><circle class="f" cx="1750" cy="4041" r="42"/>
</g>
<text x="386" y="2600" text-anchor="middle">A</text><text x="2386" y="2367" text-anchor="middle">A</text>
<text x="1177" y="3169" text-anchor="middle">B</text><text x="2788" y="3278" text-anchor="middle">B</text>
<text x="1449" y="3493" text-anchor="middle">C</text><text x="1750" y="4060" text-anchor="middle">C</text>

<text style="font-size:70px;font-weight:bold;stroke:none" text-anchor="middle" transform="matrix(.55,.321,0,1,209,326)" x="0 76 152 228 304">FRONT</text>

<text x="962" y="154" textLength="193">92154A</text>
<text x="1405" y="141" textLength="122">130B</text>
<text x="1039" y="512" textLength="157">13070</text>
<text x="38" y="676" textLength="289">Ref.Front</text>
<text x="170" y="737" textLength="93">Box</text>
<text x="255" y="839" textLength="194">92200B</text>
<text x="56" y="920" textLength="195">92210C</text>
<text x="175" y="1188" textLength="194">92200A</text>
<text x="1357" y="750" textLength="192">92154B</text>
<text x="1184" y="817" textLength="153">26031</text>
<text x="1380" y="1170" textLength="192">27010A</text>
<text x="2240" y="87" textLength="158">13272</text>
<text x="1873" y="261" textLength="125">130B</text>
<text x="2909" y="147" textLength="146">F2750</text>
<text x="2758" y="244" textLength="295">Ref.Frame</text>
<text x="2428" y="507" textLength="123">130A</text>
<text x="1805" y="797" textLength="195">92210A</text>
<text x="1783" y="1628" textLength="158">92154</text>
<text x="1938" y="1724" textLength="161">92022</text>
<text x="2879" y="1784" textLength="161">92210</text>
<text x="2620" y="2171" textLength="155">11057</text>
<text x="2625" y="2637" textLength="159">49006</text>
<text x="829" y="1436" textLength="159">53045</text>
<text x="850" y="1851" textLength="160">27010</text>
<text x="1262" y="1679" textLength="194">26031A</text>
<text x="56" y="2074" textLength="194">92210D</text>
<text x="56" y="2161" textLength="194">92200C</text>
<text x="925" y="2360" textLength="161">49006</text>
<text x="1454" y="2302" textLength="194">92210B</text>
<text x="1457" y="2391" textLength="161">92200</text>
<text x="668" y="2474" textLength="196">26011A</text>
<text x="452" y="2683" textLength="160">49006</text>
<text x="321" y="2854" textLength="194">92210B</text>
<text x="353" y="2931" textLength="162">92200</text>
<text x="792" y="2881" textLength="195">26011C</text>
<text x="82" y="2938" textLength="194">26011B</text>
<text x="353" y="3308" textLength="194">92210B</text>
<text x="355" y="3388" textLength="160">92200</text>
<text x="737" y="3326" textLength="158">49006</text>
<text x="321" y="3637" textLength="158">49006</text>
<text x="1133" y="3814" textLength="158">27034</text>
<text x="936" y="3927" textLength="90">130</text>
<text x="1804" y="3161" textLength="162">54040</text>
<text x="2965" y="3083" textLength="156">26011</text>
<text x="2925" y="2834" textLength="196">92210B</text>
<text x="2927" y="2911" textLength="162">92200</text>
<text x="2056" y="3302" textLength="195">92200C</text>
<text x="2056" y="3383" textLength="195">92210D</text>
<text x="2474" y="3476" textLength="160">49006</text>
<text x="2029" y="3752" textLength="295">Ref.Frame</text>
<text x="2609" y="3739" textLength="196">92072A</text>
<text x="1481" y="4104" textLength="162">92072</text>
</svg>
</body></html>
